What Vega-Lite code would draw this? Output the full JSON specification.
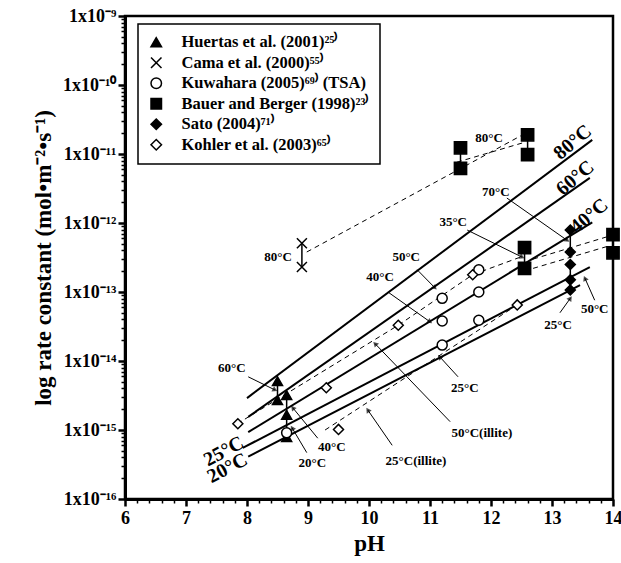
{
  "$schema": "https://vega.github.io/schema/vega-lite/v6.json",
  "width": 488,
  "height": 483,
  "autosize": {"type": "none"},
  "padding": {"left": 125, "top": 16, "right": 8, "bottom": 64},
  "background": "white",
  "config": {
    "view": {"stroke": "black", "strokeWidth": 2.5},
    "font": "Liberation Serif",
    "legend": {"strokeColor": "black", "strokeWidth": 1.5},
    "axis": {
      "domainColor": "black", "tickColor": "black", "ticks": true,
      "labelColor": "black", "labelFont": "Liberation Serif", "labelFontWeight": "bold",
      "titleFont": "Liberation Serif", "titleFontWeight": "bold", "titleColor": "black",
      "grid": false, "labelOverlap": false, "labelBound": false, "labelFlush": false
    }
  },
  "resolve": {"axis": {"x": "independent", "y": "independent"}},
  "datasets": {
    "points": [
      {"study": "Huertas et al.  (2001)²⁵⁾", "pH": 8.5, "k": 5.1e-15},
      {"study": "Huertas et al.  (2001)²⁵⁾", "pH": 8.5, "k": 2.7e-15},
      {"study": "Huertas et al.  (2001)²⁵⁾", "pH": 8.65, "k": 3.2e-15},
      {"study": "Huertas et al.  (2001)²⁵⁾", "pH": 8.65, "k": 1.66e-15},
      {"study": "Huertas et al.  (2001)²⁵⁾", "pH": 8.65, "k": 7.9e-16},
      {"study": "Cama et al. (2000)⁵⁵⁾", "pH": 8.9, "k": 5.1e-13},
      {"study": "Cama et al. (2000)⁵⁵⁾", "pH": 8.9, "k": 2.3e-13},
      {"study": "Kuwahara (2005)⁶⁹⁾ (TSA)", "pH": 11.2, "k": 8.1e-14},
      {"study": "Kuwahara (2005)⁶⁹⁾ (TSA)", "pH": 11.2, "k": 3.8e-14},
      {"study": "Kuwahara (2005)⁶⁹⁾ (TSA)", "pH": 11.2, "k": 1.7e-14},
      {"study": "Kuwahara (2005)⁶⁹⁾ (TSA)", "pH": 11.8, "k": 2.1e-13},
      {"study": "Kuwahara (2005)⁶⁹⁾ (TSA)", "pH": 11.8, "k": 1.0e-13},
      {"study": "Kuwahara (2005)⁶⁹⁾ (TSA)", "pH": 11.8, "k": 3.9e-14},
      {"study": "Kuwahara (2005)⁶⁹⁾ (TSA)", "pH": 8.65, "k": 9.1e-16},
      {"study": "Bauer and Berger (1998)²³⁾", "pH": 11.5, "k": 1.23e-11},
      {"study": "Bauer and Berger (1998)²³⁾", "pH": 11.5, "k": 6.2e-12},
      {"study": "Bauer and Berger (1998)²³⁾", "pH": 12.6, "k": 1.9e-11},
      {"study": "Bauer and Berger (1998)²³⁾", "pH": 12.6, "k": 9.8e-12},
      {"study": "Bauer and Berger (1998)²³⁾", "pH": 12.55, "k": 4.4e-13},
      {"study": "Bauer and Berger (1998)²³⁾", "pH": 12.55, "k": 2.2e-13},
      {"study": "Bauer and Berger (1998)²³⁾", "pH": 14.0, "k": 6.8e-13},
      {"study": "Bauer and Berger (1998)²³⁾", "pH": 14.0, "k": 3.7e-13},
      {"study": "Sato (2004)⁷¹⁾", "pH": 13.3, "k": 7.9e-13},
      {"study": "Sato (2004)⁷¹⁾", "pH": 13.3, "k": 3.8e-13},
      {"study": "Sato (2004)⁷¹⁾", "pH": 13.3, "k": 2.5e-13},
      {"study": "Sato (2004)⁷¹⁾", "pH": 13.3, "k": 1.5e-13},
      {"study": "Sato (2004)⁷¹⁾", "pH": 13.3, "k": 1.07e-13},
      {"study": "Kohler et al. (2003)⁶⁵⁾", "pH": 7.85, "k": 1.23e-15},
      {"study": "Kohler et al. (2003)⁶⁵⁾", "pH": 9.3, "k": 4.1e-15},
      {"study": "Kohler et al. (2003)⁶⁵⁾", "pH": 9.5, "k": 1.02e-15},
      {"study": "Kohler et al. (2003)⁶⁵⁾", "pH": 10.48, "k": 3.3e-14},
      {"study": "Kohler et al. (2003)⁶⁵⁾", "pH": 11.7, "k": 1.78e-13},
      {"study": "Kohler et al. (2003)⁶⁵⁾", "pH": 12.43, "k": 6.5e-14}
    ],
    "bars": [
      {"pH": 8.5, "lo": 2.7e-15, "hi": 5.1e-15},
      {"pH": 8.65, "lo": 7.9e-16, "hi": 3.2e-15},
      {"pH": 8.9, "lo": 2.3e-13, "hi": 5.1e-13},
      {"pH": 11.5, "lo": 6.2e-12, "hi": 1.23e-11},
      {"pH": 12.6, "lo": 9.8e-12, "hi": 1.9e-11},
      {"pH": 12.55, "lo": 2.2e-13, "hi": 4.4e-13},
      {"pH": 14.0, "lo": 3.7e-13, "hi": 6.8e-13},
      {"pH": 13.3, "lo": 3.8e-13, "hi": 7.9e-13},
      {"pH": 13.3, "lo": 1.07e-13, "hi": 2.5e-13}
    ],
    "lines": [
      {"id": "80", "pH": 8.0, "k": 2.9e-15}, {"id": "80", "pH": 13.66, "k": 1.6e-11},
      {"id": "60", "pH": 8.02, "k": 1.55e-15}, {"id": "60", "pH": 13.62, "k": 4.5e-12},
      {"id": "40", "pH": 8.02, "k": 9.3e-16}, {"id": "40", "pH": 13.66, "k": 1.02e-12},
      {"id": "25", "pH": 7.93, "k": 5.5e-16}, {"id": "25", "pH": 13.62, "k": 2.3e-13},
      {"id": "20", "pH": 8.02, "k": 4.1e-16}, {"id": "20", "pH": 13.46, "k": 1.26e-13}
    ],
    "dashes": [
      {"id": "d1", "pH": 8.98, "k": 3.8e-13}, {"id": "d1", "pH": 12.52, "k": 1.9e-11},
      {"id": "d2", "pH": 11.44, "k": 7.6e-12}, {"id": "d2", "pH": 12.52, "k": 1.45e-11},
      {"id": "d3", "pH": 12.69, "k": 3.0e-13}, {"id": "d3", "pH": 13.95, "k": 6.5e-13},
      {"id": "d4", "pH": 12.69, "k": 2.2e-13}, {"id": "d4", "pH": 13.95, "k": 4.7e-13},
      {"id": "d5", "pH": 7.84, "k": 1.23e-15}, {"id": "d5", "pH": 10.48, "k": 3.3e-14},
      {"id": "d5", "pH": 11.7, "k": 1.78e-13}, {"id": "d5", "pH": 12.48, "k": 3.2e-13},
      {"id": "d6", "pH": 9.28, "k": 1.0e-15}, {"id": "d6", "pH": 12.43, "k": 6.5e-14}
    ],
    "arrows": [
      {"x1": 10.79, "k1": 2.1e-13, "x2": 11.08, "k2": 1.15e-13, "ang": 135},
      {"x1": 10.31, "k1": 1.0e-13, "x2": 11.0, "k2": 3.7e-14, "ang": 125},
      {"x1": 8.02, "k1": 5.9e-15, "x2": 8.46, "k2": 3.8e-15, "ang": 116},
      {"x1": 9.16, "k1": 7.6e-16, "x2": 8.75, "k2": 2.1e-15, "ang": 321},
      {"x1": 8.98, "k1": 4.7e-16, "x2": 8.74, "k2": 1.07e-15, "ang": 329},
      {"x1": 10.38, "k1": 6.0e-16, "x2": 9.98, "k2": 1.95e-15, "ang": 326},
      {"x1": 11.33, "k1": 1.32e-15, "x2": 10.10, "k2": 1.78e-14, "ang": 316},
      {"x1": 11.46, "k1": 5.9e-15, "x2": 11.16, "k2": 1.15e-14, "ang": 318},
      {"x1": 13.13, "k1": 5.0e-14, "x2": 13.30, "k2": 8.1e-14, "ang": 34},
      {"x1": 13.70, "k1": 7.6e-14, "x2": 13.54, "k2": 1.58e-13, "ang": 336},
      {"x1": 12.26, "k1": 2.3e-12, "x2": 13.25, "k2": 5.6e-13, "ang": 125},
      {"x1": 11.61, "k1": 7.9e-13, "x2": 12.51, "k2": 3.2e-13, "ang": 116}
    ],
    "labels": [
      {"label": "80°C", "pH": 8.51, "k": 3.2e-13},
      {"label": "80°C", "pH": 11.97, "k": 1.7e-11},
      {"label": "70°C", "pH": 12.08, "k": 2.8e-12},
      {"label": "35°C", "pH": 11.38, "k": 1.02e-12},
      {"label": "50°C", "pH": 10.61, "k": 3.2e-13},
      {"label": "40°C", "pH": 10.18, "k": 1.66e-13},
      {"label": "60°C", "pH": 7.75, "k": 7.9e-15},
      {"label": "40°C", "pH": 9.39, "k": 5.6e-16},
      {"label": "20°C", "pH": 9.07, "k": 3.3e-16},
      {"label": "25°C(illite)", "pH": 10.77, "k": 3.5e-16},
      {"label": "50°C(illite)", "pH": 11.85, "k": 9.1e-16},
      {"label": "25°C", "pH": 11.57, "k": 4.1e-15},
      {"label": "25°C", "pH": 13.10, "k": 3.3e-14},
      {"label": "50°C", "pH": 13.70, "k": 5.6e-14}
    ],
    "bigRight": [
      {"label": "80°C", "pH": 13.34, "k": 1.48e-11},
      {"label": "60°C", "pH": 13.38, "k": 4.5e-12},
      {"label": "40°C", "pH": 13.61, "k": 1.26e-12}
    ],
    "bigLeft": [
      {"label": "25°C", "pH": 7.62, "k": 4.9e-16},
      {"label": "20°C", "pH": 7.68, "k": 2.8e-16}
    ]
  },
  "layer": [
    {
      "data": {"name": "lines"},
      "mark": {"type": "line", "color": "black", "strokeWidth": 2},
      "encoding": {
        "x": {"field": "pH", "type": "quantitative", "scale": {"domain": [6, 14], "nice": false, "zero": false},
          "axis": {
            "orient": "bottom",
            "values": [6, 7, 8, 9, 10, 11, 12, 13, 14],
            "format": "d", "tickColor": "black",
            "tickSize": 7, "tickWidth": 2.5, "domainWidth": 3,
            "labelFontSize": 18, "labelPadding": 3, "labelOverlap": false,
            "title": "pH", "titleFontSize": 23, "titlePadding": 5
          }},
        "y": {"field": "k", "type": "quantitative", "scale": {"type": "log", "domain": [1e-16, 1e-9], "nice": false},
          "axis": {
            "orient": "left",
            "values": [1e-16, 1e-15, 1e-14, 1e-13, 1e-12, 1e-11, 1e-10, 1e-9],
            "labelExpr": "'1x10' + ['⁻¹⁶','⁻¹⁵','⁻¹⁴','⁻¹³','⁻¹²','⁻¹¹','⁻¹⁰','⁻⁹'][round(log(datum.value)/LN10) + 16]",
            "tickColor": "black", "tickSize": 7, "tickWidth": 2.5, "domainWidth": 3,
            "labelFontSize": 18, "labelPadding": 2, "labelOverlap": false,
            "title": "log rate constant (mol•m⁻²•s⁻¹)", "titleFontSize": 23, "titlePadding": 7
          }},
        "detail": {"field": "id"}
      }
    },
    {
      "data": {"name": "dashes"},
      "mark": {"type": "line", "color": "black", "strokeWidth": 1, "strokeDash": [5, 4]},
      "encoding": {
        "x": {"field": "pH", "type": "quantitative",
          "axis": {
            "orient": "bottom", "domain": false, "labels": false, "title": null, "tickColor": "black",
            "values": [6.2,6.4,6.6,6.8,7.2,7.4,7.6,7.8,8.2,8.4,8.6,8.8,9.2,9.4,9.6,9.8,10.2,10.4,10.6,10.8,11.2,11.4,11.6,11.8,12.2,12.4,12.6,12.8,13.2,13.4,13.6,13.8],
            "tickSize": 4, "tickWidth": 1.5
          }},
        "y": {"field": "k", "type": "quantitative",
          "axis": {
            "orient": "left", "domain": false, "labels": false, "title": null, "tickColor": "black",
            "values": [2e-16,3e-16,4e-16,5e-16,6e-16,7e-16,8e-16,9e-16,2e-15,3e-15,4e-15,5e-15,6e-15,7e-15,8e-15,9e-15,2e-14,3e-14,4e-14,5e-14,6e-14,7e-14,8e-14,9e-14,2e-13,3e-13,4e-13,5e-13,6e-13,7e-13,8e-13,9e-13,2e-12,3e-12,4e-12,5e-12,6e-12,7e-12,8e-12,9e-12,2e-11,3e-11,4e-11,5e-11,6e-11,7e-11,8e-11,9e-11,2e-10,3e-10,4e-10,5e-10,6e-10,7e-10,8e-10,9e-10],
            "tickSize": 4, "tickWidth": 1.5
          }},
        "detail": {"field": "id"}
      }
    },
    {
      "data": {"name": "bars"},
      "mark": {"type": "rule", "color": "black", "strokeWidth": 1.5},
      "encoding": {
        "x": {"field": "pH", "type": "quantitative", "axis": null},
        "y": {"field": "lo", "type": "quantitative", "axis": null},
        "y2": {"field": "hi"}
      }
    },
    {
      "data": {"name": "arrows"},
      "mark": {"type": "rule", "color": "black", "strokeWidth": 1},
      "encoding": {
        "x": {"field": "x1", "type": "quantitative", "axis": null},
        "y": {"field": "k1", "type": "quantitative", "axis": null},
        "x2": {"field": "x2"},
        "y2": {"field": "k2"}
      }
    },
    {
      "data": {"name": "arrows"},
      "mark": {"type": "point", "shape": "triangle-up", "filled": true, "color": "black", "size": 35},
      "encoding": {
        "x": {"field": "x2", "type": "quantitative", "axis": null},
        "y": {"field": "k2", "type": "quantitative", "axis": null},
        "angle": {"field": "ang", "type": "quantitative", "scale": null}
      }
    },
    {
      "data": {"name": "points"},
      "mark": {"type": "point", "filled": true, "strokeWidth": 1.5, "opacity": 1, "clip": false},
      "encoding": {
        "x": {"field": "pH", "type": "quantitative", "axis": null},
        "y": {"field": "k", "type": "quantitative", "axis": null},
        "shape": {"field": "study", "type": "nominal",
          "scale": {"domain": ["Huertas et al.  (2001)²⁵⁾", "Cama et al. (2000)⁵⁵⁾", "Kuwahara (2005)⁶⁹⁾ (TSA)", "Bauer and Berger (1998)²³⁾", "Sato (2004)⁷¹⁾", "Kohler et al. (2003)⁶⁵⁾"],
            "range": ["triangle-up", "M-1,-1L1,1M-1,1L1,-1", "circle", "square", "diamond", "diamond"]},
          "legend": {"title": null, "orient": "none", "legendX": 13, "legendY": 8,
            "padding": 10, "fillColor": "white",
            "labelFont": "Liberation Serif", "labelFontWeight": "bold", "labelFontSize": 16.5, "labelColor": "black",
            "symbolSize": 110, "symbolStrokeWidth": 1.5, "labelOffset": 17, "rowPadding": 3.5, "labelLimit": 400}},
        "fill": {"field": "study", "type": "nominal",
          "scale": {"domain": ["Huertas et al.  (2001)²⁵⁾", "Cama et al. (2000)⁵⁵⁾", "Kuwahara (2005)⁶⁹⁾ (TSA)", "Bauer and Berger (1998)²³⁾", "Sato (2004)⁷¹⁾", "Kohler et al. (2003)⁶⁵⁾"],
            "range": ["black", "black", "white", "black", "black", "white"]},
          "legend": {"title": null, "orient": "none", "legendX": 13, "legendY": 8,
            "padding": 10, "fillColor": "white",
            "labelFont": "Liberation Serif", "labelFontWeight": "bold", "labelFontSize": 16.5, "labelColor": "black",
            "symbolSize": 110, "symbolStrokeWidth": 1.5, "labelOffset": 17, "rowPadding": 3.5, "labelLimit": 400}},
        "stroke": {"field": "study", "type": "nominal",
          "scale": {"domain": ["Huertas et al.  (2001)²⁵⁾", "Cama et al. (2000)⁵⁵⁾", "Kuwahara (2005)⁶⁹⁾ (TSA)", "Bauer and Berger (1998)²³⁾", "Sato (2004)⁷¹⁾", "Kohler et al. (2003)⁶⁵⁾"],
            "range": ["black", "black", "black", "black", "black", "black"]},
          "legend": {"title": null, "orient": "none", "legendX": 13, "legendY": 8,
            "padding": 10, "fillColor": "white",
            "labelFont": "Liberation Serif", "labelFontWeight": "bold", "labelFontSize": 16.5, "labelColor": "black",
            "symbolSize": 110, "symbolStrokeWidth": 1.5, "labelOffset": 17, "rowPadding": 3.5, "labelLimit": 400}},
        "size": {"condition": {"test": "datum.study == 'Bauer and Berger (1998)²³⁾'", "value": 150}, "value": 100}
      }
    },
    {
      "data": {"name": "labels"},
      "mark": {"type": "text", "font": "Liberation Serif", "fontWeight": "bold", "fontSize": 13, "color": "black"},
      "encoding": {
        "x": {"field": "pH", "type": "quantitative", "axis": null},
        "y": {"field": "k", "type": "quantitative", "axis": null},
        "text": {"field": "label"}
      }
    },
    {
      "data": {"name": "bigRight"},
      "mark": {"type": "text", "font": "Liberation Serif", "fontWeight": "bold", "fontSize": 20, "color": "black", "angle": 320},
      "encoding": {
        "x": {"field": "pH", "type": "quantitative", "axis": null},
        "y": {"field": "k", "type": "quantitative", "axis": null},
        "text": {"field": "label"}
      }
    },
    {
      "data": {"name": "bigLeft"},
      "mark": {"type": "text", "font": "Liberation Serif", "fontWeight": "bold", "fontSize": 20, "color": "black", "angle": 332},
      "encoding": {
        "x": {"field": "pH", "type": "quantitative", "axis": null},
        "y": {"field": "k", "type": "quantitative", "axis": null},
        "text": {"field": "label"}
      }
    }
  ]
}
